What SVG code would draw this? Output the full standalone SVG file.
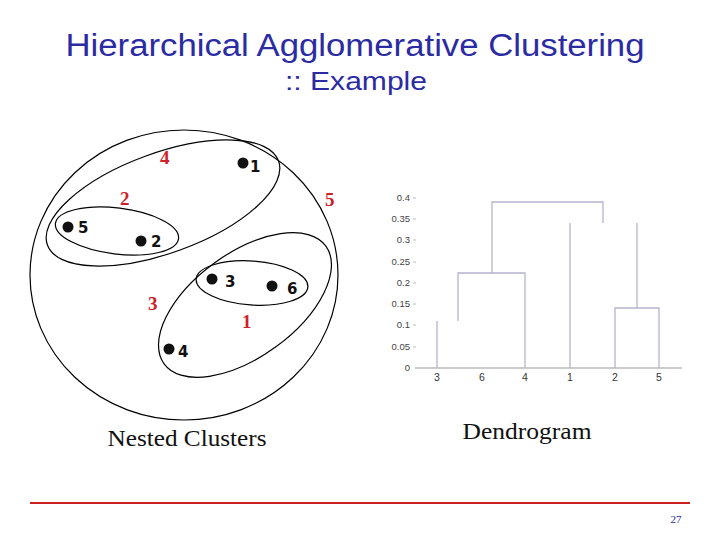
<svg xmlns="http://www.w3.org/2000/svg" width="720" height="540" viewBox="0 0 720 540">
<style>
.t{font-family:"Liberation Sans",Arial,sans-serif;fill:#2b2ba3;text-anchor:middle}
.c{fill:none;stroke:#000;stroke-width:1.2}
.d{fill:#111}
.n{font-family:"DejaVu Sans",sans-serif;font-weight:bold;font-size:15px;fill:#111}
.r{font-family:"Liberation Serif",serif;font-weight:bold;font-size:19px;fill:#d0202a}
.dl{fill:none;stroke:#b4b4cc;stroke-width:1.3}
.ax{font-family:"Liberation Sans",Arial,sans-serif;font-size:9.5px;fill:#444;text-anchor:end}
.xl{font-family:"Liberation Sans",Arial,sans-serif;font-size:10.5px;fill:#333;text-anchor:middle}
.cap{font-family:"Liberation Serif",serif;font-size:23px;fill:#111;text-anchor:middle}
</style>
<rect width="720" height="540" fill="#fff"/>
<text class="t" x="355" y="56" font-size="31" textLength="579" lengthAdjust="spacingAndGlyphs">Hierarchical Agglomerative Clustering</text>
<text class="t" x="356" y="90" font-size="26" textLength="142" lengthAdjust="spacingAndGlyphs">:: Example</text>
<g id="clusters">
<ellipse class="c" cx="184" cy="275" rx="154" ry="145"/>
<ellipse class="c" cx="163" cy="203" rx="123" ry="50" transform="rotate(-20 163 203)"/>
<ellipse class="c" cx="117" cy="231" rx="62" ry="23" transform="rotate(7 117 231)"/>
<ellipse class="c" cx="252" cy="283" rx="56" ry="22" transform="rotate(4 252 283)"/>
<ellipse class="c" cx="245" cy="305" rx="100" ry="52" transform="rotate(-36 245 305)"/>
</g>
<g id="points">
<circle class="d" cx="243" cy="163" r="5.5"/><text class="n" x="250" y="172">1</text>
<circle class="d" cx="68" cy="227" r="5.5"/><text class="n" x="78" y="233">5</text>
<circle class="d" cx="141" cy="241" r="5.5"/><text class="n" x="151" y="247">2</text>
<circle class="d" cx="212" cy="279" r="5.5"/><text class="n" x="225" y="287">3</text>
<circle class="d" cx="272" cy="286" r="5.5"/><text class="n" x="287" y="294">6</text>
<circle class="d" cx="169" cy="349" r="5.5"/><text class="n" x="178" y="357">4</text>
</g>
<g id="cluster-labels">
<text class="r" x="160" y="164">4</text>
<text class="r" x="120" y="205">2</text>
<text class="r" x="325" y="206">5</text>
<text class="r" x="148" y="310">3</text>
<text class="r" x="242" y="328">1</text>
</g>
<g id="dendrogram">
<line x1="415" y1="368" x2="682" y2="368" stroke="#999" stroke-width="1"/>
<g stroke="#bbb" stroke-width="1">
<line x1="413" y1="198" x2="416" y2="198"/><line x1="413" y1="219" x2="416" y2="219"/><line x1="413" y1="240" x2="416" y2="240"/><line x1="413" y1="262" x2="416" y2="262"/><line x1="413" y1="283" x2="416" y2="283"/><line x1="413" y1="304" x2="416" y2="304"/><line x1="413" y1="325" x2="416" y2="325"/><line x1="413" y1="347" x2="416" y2="347"/>
</g>
<text class="ax" x="410" y="201">0.4</text>
<text class="ax" x="410" y="222">0.35</text>
<text class="ax" x="410" y="243">0.3</text>
<text class="ax" x="410" y="265">0.25</text>
<text class="ax" x="410" y="286">0.2</text>
<text class="ax" x="410" y="307">0.15</text>
<text class="ax" x="410" y="328">0.1</text>
<text class="ax" x="410" y="350">0.05</text>
<text class="ax" x="410" y="371">0</text>
<path class="dl" d="M437 368V321 M458 321V273H525V368 M492 273V202H603V223 M570 368V223 M637 223V308 M615 368V308H659V368"/>
<text class="xl" x="437" y="381">3</text>
<text class="xl" x="482" y="381">6</text>
<text class="xl" x="525" y="381">4</text>
<text class="xl" x="570" y="381">1</text>
<text class="xl" x="615" y="381">2</text>
<text class="xl" x="659" y="381">5</text>
</g>
<text class="cap" x="187" y="446" textLength="159" lengthAdjust="spacingAndGlyphs">Nested Clusters</text>
<text class="cap" x="527" y="439" textLength="129" lengthAdjust="spacingAndGlyphs">Dendrogram</text>
<line x1="30" y1="503" x2="690" y2="503" stroke="#cc2020" stroke-width="2"/>
<text x="676" y="523" font-family="Liberation Serif,serif" font-size="11" fill="#2b2ba3" text-anchor="middle">27</text>
</svg>
